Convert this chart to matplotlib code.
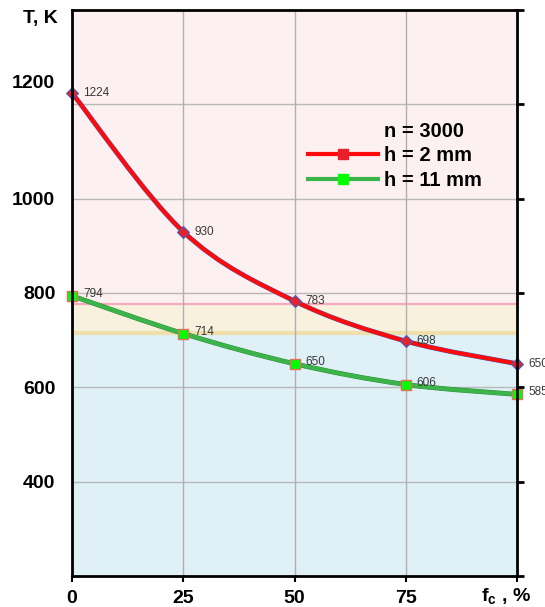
import numpy as np
import matplotlib.pyplot as plt
from matplotlib.path import Path
from matplotlib.patches import PathPatch
from matplotlib.lines import Line2D
import matplotlib.transforms as mtransforms

plt.rcParams['font.family'] = ['Liberation Sans', 'DejaVu Sans']
plt.rcParams['mathtext.fontset'] = 'custom'
plt.rcParams['mathtext.bf'] = 'Liberation Sans:bold'
plt.rcParams['mathtext.rm'] = 'Liberation Sans'

# # # # # data # # # # #
fc = [0, 25, 50, 75, 100]
T_h2 = [1224, 930, 783, 698, 650]
T_h11 = [794, 714, 650, 606, 585]
xticks = [0, 25, 50, 75]
yticks = [400, 600, 800, 1000, 1200]
band_low = 716
band_high = 777
legend_title = "n = 3000"
labels = ["h = 2 mm", "h = 11 mm"]


def smoothPath(xs, ys):
    # catmull-rom -> bezier, like excel smoothed lines
    P = np.column_stack([xs, ys]).astype(float)
    P = np.vstack([P[0], P, P[-1]])
    verts = [P[1]]
    codes = [Path.MOVETO]
    for i in range(1, len(P) - 2):
        c1 = P[i] + (P[i+1] - P[i-1]) / 6.0
        c2 = P[i+1] - (P[i+2] - P[i]) / 6.0
        verts += [c1, c2, P[i+1]]
        codes += [Path.CURVE4] * 3
    return Path(verts, codes)


fig = plt.figure(figsize=(5.45, 6.07), dpi=100)
W, H = 545, 607
ax = fig.add_axes([72/W, 1-576/H, (517-72)/W, (576-10)/H])
ax.set_xlim(0, 100)
ax.set_ylim(200, 1400)

# background zones
ax.axhspan(band_high, 1400, color='#fdf0f0', zorder=0, lw=0)
ax.axhspan(band_low, band_high, color='#f8f1dd', zorder=0, lw=0)
ax.axhspan(200, band_low, color='#dff0f7', zorder=0, lw=0)
ax.axhline(band_high, color='#f6a9bd', lw=1.6, zorder=1)
ax.axhline(band_low, color='#efe0ab', lw=3, zorder=1)

# grid
for v in yticks:
    ax.axhline(v, color='#b8b8b8', lw=1, zorder=1)
for v in xticks[1:]:
    ax.axvline(v, color='#b0b0b0', lw=1, zorder=1)

# curves
p2 = smoothPath(fc, T_h2)
ax.add_patch(PathPatch(p2, fill=False, edgecolor='#4060c0', lw=3.5, zorder=3))
ax.add_patch(PathPatch(p2, fill=False, edgecolor='#ff0a0a', lw=2.9, zorder=3))
p11 = smoothPath(fc, T_h11)
ax.add_patch(PathPatch(p11, fill=False, edgecolor='#2d8a3a', lw=3.5, zorder=3))
ax.add_patch(PathPatch(p11, fill=False, edgecolor='#3cb44a', lw=2.9, zorder=3))

ax.plot(fc, T_h2, ls='none', marker='D', ms=6, mfc='#e8202a', mec='#4060c0',
        mew=0.8, zorder=4, clip_on=False)
ax.plot(fc, T_h11, ls='none', marker='s', ms=7.5, mfc='#00ff00', mec='#e07060',
        mew=1, zorder=4, clip_on=False)

for x, y in zip(fc, T_h2):
    ax.annotate(str(y), xy=(x, y), xytext=(11, 0), textcoords='offset pixels',
                fontsize=8.5, color='#383838', va='center', ha='left',
                annotation_clip=False, zorder=5)
for x, y in zip(fc, T_h11):
    ax.annotate(str(y), xy=(x, y), xytext=(11, 2), textcoords='offset pixels',
                fontsize=8.5, color='#383838', va='center', ha='left',
                annotation_clip=False, zorder=5)

# spines / ticks
for s in ax.spines.values():
    s.set_color('black')
    s.set_linewidth(2)
    s.set_zorder(6)
ax.set_xticks(fc)
ax.set_xticklabels([str(v) for v in xticks] + [''], fontsize=14, fontweight='bold')
ax.tick_params(axis='x', direction='out', length=4, width=1.5, pad=6)
ax.set_yticks(yticks)
ax.set_yticklabels([str(v) for v in yticks], fontsize=14, fontweight='bold')
ax.tick_params(axis='y', left=False, length=0, pad=12)

# 1200 label sits a bit higher in the original
for lab in ax.get_yticklabels():
    if lab.get_text() == '1200':
        lab.set_transform(lab.get_transform() +
                          mtransforms.ScaledTranslation(0, 23/100, fig.dpi_scale_trans))

ax2 = ax.twinx()
ax2.set_ylim(200, 1400)
ax2.set_yticks(list(range(200, 1401, 200)))
ax2.set_yticklabels([])
ax2.tick_params(axis='y', direction='out', length=5, width=2)
for s in ax2.spines.values():
    s.set_visible(False)

ax.annotate(r'$\mathbf{f_c}$ , %', xy=(1, 0), xycoords='axes fraction',
            xytext=(14, -20), textcoords='offset pixels', ha='right', va='center',
            fontsize=14, fontweight='bold')
fig.text(58/W, 1-18/H, 'T, K', ha='right', va='center', fontsize=14,
         fontweight='bold')

# legend
handles = [Line2D([], [], ls='none'),
           Line2D([], [], color='#ff0a0a', lw=3, marker='s', ms=7, mfc='#e8202a',
                  mec='#e8202a'),
           Line2D([], [], color='#3cb44a', lw=3, marker='s', ms=7, mfc='#00ff00',
                  mec='#00ff00')]
leg = ax.legend(handles, [legend_title] + labels, loc='upper left',
                bbox_to_anchor=((308-72)/445, (576-122)/566), frameon=False,
                borderpad=0, borderaxespad=0, handlelength=3.5, handletextpad=0.25,
                labelspacing=0.27, prop={'size': 14.5, 'weight': 'bold'})
leg.set_zorder(7)

fig.savefig('out.png', dpi=100)
